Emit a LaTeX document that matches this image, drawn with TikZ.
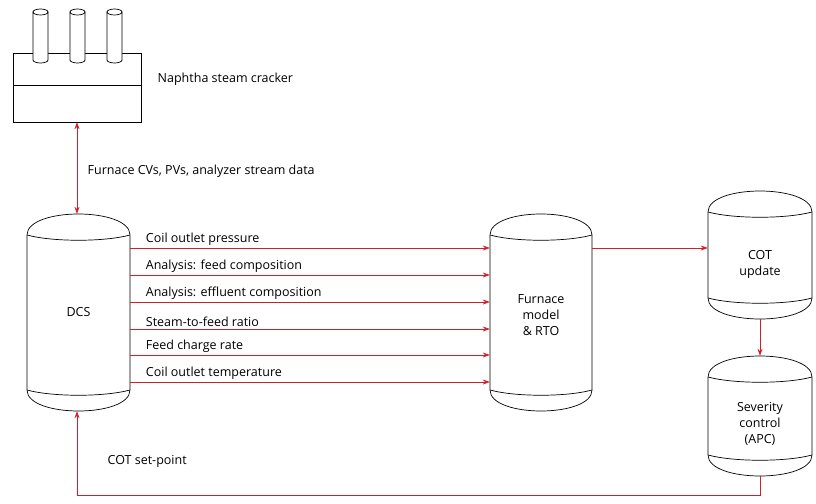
\documentclass[tikz,border=0pt]{standalone}
\usepackage{fontspec}
\setmainfont{Open Sans}
\usetikzlibrary{arrows.meta}
\definecolor{ared}{RGB}{210,30,45}
\newcommand\vessel[7]{%
  \draw[line width=0.7pt] (#2,#4) .. controls (#2,#4-28) and (#3,#4-28) .. (#3,#4)
    -- (#3,#5) .. controls (#3,#5+28) and (#2,#5+28) .. (#2,#5) -- cycle;
  \draw[line width=0.7pt] (#2,#4) .. controls ({#2+(#3-#2)/4},#4+7) and ({#3-(#3-#2)/4},#4+7) .. (#3,#4);
  \draw[line width=0.7pt] (#2,#5) .. controls ({#2+(#3-#2)/4},#5+7) and ({#3-(#3-#2)/4},#5+7) .. (#3,#5);
  \node[inner sep=0, minimum width={(#3-#2)*1pt}, minimum height={(#5-#4+42)*1pt}] (#1) at ({(#2+#3)/2},{(#4+#5)/2}) {};
  \node[align=center, font=\lbl, inner sep=0] (#1t) at ([yshift=-#7pt]#1.center) {#6};}
\newcommand\lbl{\fontsize{12.5}{16}\selectfont}
\tikzset{arr/.style={draw=ared, line width=0.7pt, -{Stealth[length=7pt,width=5pt]}},
  lab/.style={anchor=south west, inner sep=1.5pt, font=\lbl}}
\begin{document}
\begin{tikzpicture}[x=1pt,y=-1pt]
\useasboundingbox (0,0) rectangle (816,503);
% cracker
\draw[line width=0.7pt] (13,53) rectangle (141,122);
\draw[line width=0.7pt] (13,85) -- (141,85);
\foreach \c in {40.5,77.5,114.5}{
  \fill[white] (\c-7.5,12) rectangle (\c+7.5,60) (\c,60) ellipse [x radius=7.5,y radius=3];
  \draw[line width=0.7pt] (\c-7.5,12) -- (\c-7.5,60) arc[start angle=180,end angle=360,x radius=7.5,y radius=-3] -- (\c+7.5,12);
  \draw[line width=0.7pt] (\c,12) ellipse [x radius=7.5,y radius=3];
}
\node[inner sep=0, minimum width=128pt, minimum height=69pt] (crk) at (77,87.5) {};
\node[lab, anchor=west] (crkl) at (156,79) {Naphtha steam cracker};
% vessels
\vessel{dcs}{27}{130}{235}{390}{DCS}{0}
\vessel{rto}{490}{592}{235}{390}{Furnace\\model\\\& RTO}{3}
\vessel{cot}{708}{812}{212}{298}{COT\\update}{9}
\vessel{apc}{708}{812}{377}{455}{Severity\\control\\(APC)}{8}
% cracker-DCS
\draw[arr, {Stealth[length=7pt,width=5pt]}-{Stealth[length=7pt,width=5pt]}] (crk.south) -- (crk.south |- dcs.north) coordinate (dtop);
\node[lab, anchor=west] (fl) at (86,171) {Furnace CVs, PVs, analyzer stream data};
% signals
\foreach \y/\t/\n in {248/Coil outlet pressure/s1,275/Analysis: feed composition/s2,302/Analysis: effluent composition/s3,329/Steam-to-feed ratio/s4,355/Feed charge rate/s5,382/Coil outlet temperature/s6}{
  \draw[arr] (dcs.east |- 0,\y) coordinate (\n a) -- (rto.west |- 0,\y);
  \node[lab] (\n) at ([xshift=14pt,yshift=1pt]\n a) {\t};
}
\draw[arr] (rto.east |- 0,248) -- (cot.west |- 0,248);
\draw[arr] (cot.south) -- (apc.north);
\draw[arr] (apc.south) |- (77,495) -- (dcs.south -| 77,0);
\node[lab, anchor=west] (spl) at (106,461) {COT set-point};
\end{tikzpicture}
\end{document}
